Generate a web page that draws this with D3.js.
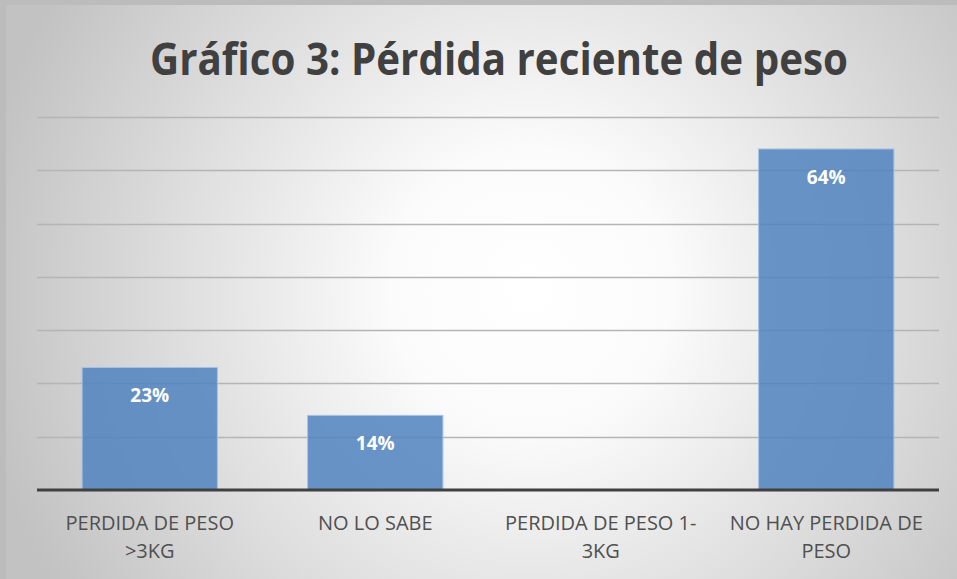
<!DOCTYPE html>
<html>
<head>
<meta charset="utf-8">
<script src="https://cdn.jsdelivr.net/npm/d3@7"></script>
<style>
html,body{margin:0;padding:0;background:#bdbdbd;}
svg{display:block;}
</style>
</head>
<body>
<svg id="chart" width="957" height="579"></svg>
<script>
const categories = [["PERDIDA DE PESO", ">3KG"], ["NO LO SABE"], ["PERDIDA DE PESO 1-", "3KG"], ["NO HAY PERDIDA DE", "PESO"]];
const categoryKeys = ["PERDIDA DE PESO >3KG", "NO LO SABE", "PERDIDA DE PESO 1-3KG", "NO HAY PERDIDA DE PESO"];
const values = [23, 14, 0, 64];
const gridTicks = [10, 20, 30, 40, 50, 60, 70];
const titleText = "Gráfico 3: Pérdida reciente de peso";

const W = 957, H = 579;
const svg = d3.select("#chart");
const defs = svg.append("defs");
const rg = defs.append("radialGradient").attr("id", "bg")
  .attr("gradientUnits", "userSpaceOnUse")
  .attr("cx", 530).attr("cy", 290).attr("r", 560);
rg.append("stop").attr("offset", "0%").attr("stop-color", "#ffffff");
rg.append("stop").attr("offset", "25%").attr("stop-color", "#fbfbfb");
rg.append("stop").attr("offset", "100%").attr("stop-color", "#c2c2c2");

svg.append("rect").attr("x", 0).attr("y", 0).attr("width", W).attr("height", H).attr("fill", "#bcbcbc");
svg.append("rect").attr("x", 6).attr("y", 5).attr("width", W - 6).attr("height", H - 5).attr("fill", "url(#bg)");

const x = d3.scaleBand().domain(categoryKeys).range([37, 939]).paddingInner(0.4).paddingOuter(0.2);
const y = d3.scaleLinear().domain([0, 70]).range([490, 117]);

// gridlines
svg.append("g").selectAll("line").data(gridTicks).join("line")
  .attr("x1", 37).attr("x2", 939)
  .attr("y1", d => Math.round(y(d)) + 0.5).attr("y2", d => Math.round(y(d)) + 0.5)
  .attr("stroke", "#b5b5b5").attr("stroke-width", 1.3);

// bars
svg.append("g").selectAll("rect").data(values).join("rect")
  .attr("x", (d, i) => x(categoryKeys[i]))
  .attr("width", x.bandwidth())
  .attr("y", d => y(d))
  .attr("height", d => y(0) - y(d))
  .attr("fill", "#4f82c0").attr("fill-opacity", 0.85)
  .attr("stroke", "#a9c1e2").attr("stroke-width", 1)
  .style("display", d => d > 0 ? null : "none");

// baseline
svg.append("line").attr("x1", 37).attr("x2", 939).attr("y1", y(0)).attr("y2", y(0))
  .attr("stroke", "#404040").attr("stroke-width", 3);

// value labels
svg.append("g").selectAll("text").data(values.map((v, i) => ({v, k: categoryKeys[i]})).filter(d => d.v > 0)).join("text")
  .attr("x", d => x(d.k) + x.bandwidth() / 2)
  .attr("y", d => y(d.v) + 35)
  .attr("text-anchor", "middle")
  .attr("font-family", "'Open Sans', sans-serif")
  .attr("font-weight", "bold")
  .attr("font-size", 19)
  .attr("fill", "#ffffff")
  .text(d => d.v + "%");

// category labels
const lab = svg.append("g").selectAll("text").data(categories).join("text")
  .attr("x", (d, i) => x(categoryKeys[i]) + x.bandwidth() / 2)
  .attr("y", 530)
  .attr("text-anchor", "middle")
  .attr("font-family", "'Open Sans', sans-serif")
  .attr("font-size", 20)
  .attr("fill", "#505050");
lab.selectAll("tspan").data(d => d).join("tspan")
  .attr("x", function() { return d3.select(this.parentNode).attr("x"); })
  .attr("dy", (d, i) => i === 0 ? 0 : 28)
  .text(d => d);

// title
svg.append("text")
  .attr("x", 499).attr("y", 75)
  .attr("text-anchor", "middle")
  .attr("font-family", "'Open Sans', sans-serif")
  .attr("font-weight", "bold")
  .attr("font-size", 45)
  .attr("fill", "#404040")
  .attr("textLength", 698).attr("lengthAdjust", "spacingAndGlyphs")
  .text(titleText);
</script>
</body>
</html>
